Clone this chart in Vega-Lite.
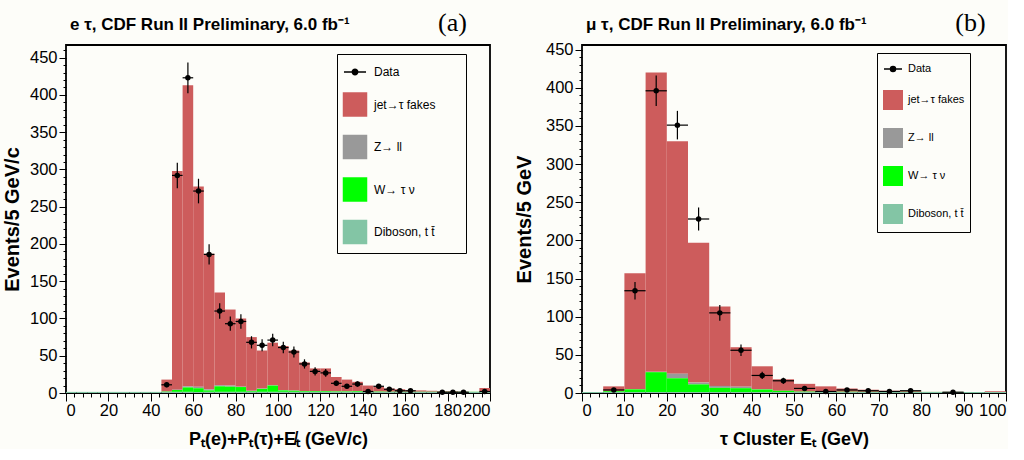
{
  "$schema": "https://vega.github.io/schema/vega-lite/v6.json",
  "background": "#fdfdf9",
  "padding": {"left": 1, "top": 8, "right": 0, "bottom": 0},
  "spacing": 92,
  "bounds": "flush",
  "datasets": {
    "a_mc": [
      {"lo": 0, "hi": 5, "jet→τ fakes": 0, "Z→ ll": 0, "W→ τ  ν": 0, "Diboson, t t̄": 1.5},
      {"lo": 5, "hi": 10, "jet→τ fakes": 0, "Z→ ll": 0, "W→ τ  ν": 0, "Diboson, t t̄": 1.5},
      {"lo": 10, "hi": 15, "jet→τ fakes": 0, "Z→ ll": 0, "W→ τ  ν": 0, "Diboson, t t̄": 1.5},
      {"lo": 15, "hi": 20, "jet→τ fakes": 0, "Z→ ll": 0, "W→ τ  ν": 0, "Diboson, t t̄": 1.5},
      {"lo": 20, "hi": 25, "jet→τ fakes": 0, "Z→ ll": 0, "W→ τ  ν": 0, "Diboson, t t̄": 1.5},
      {"lo": 25, "hi": 30, "jet→τ fakes": 0, "Z→ ll": 0, "W→ τ  ν": 0, "Diboson, t t̄": 1.5},
      {"lo": 30, "hi": 35, "jet→τ fakes": 0, "Z→ ll": 0, "W→ τ  ν": 0, "Diboson, t t̄": 1.5},
      {"lo": 35, "hi": 40, "jet→τ fakes": 0, "Z→ ll": 0, "W→ τ  ν": 0, "Diboson, t t̄": 1.5},
      {"lo": 40, "hi": 45, "jet→τ fakes": 0, "Z→ ll": 0, "W→ τ  ν": 0, "Diboson, t t̄": 1.5},
      {"lo": 45, "hi": 50, "jet→τ fakes": 16, "Z→ ll": 0, "W→ τ  ν": 0.5, "Diboson, t t̄": 1.5},
      {"lo": 50, "hi": 55, "jet→τ fakes": 293.5, "Z→ ll": 0.5, "W→ τ  ν": 2.5, "Diboson, t t̄": 1.5},
      {"lo": 55, "hi": 60, "jet→τ fakes": 404, "Z→ ll": 1.5, "W→ τ  ν": 6, "Diboson, t t̄": 1.5},
      {"lo": 60, "hi": 65, "jet→τ fakes": 268.5, "Z→ ll": 2, "W→ τ  ν": 5, "Diboson, t t̄": 1.5},
      {"lo": 65, "hi": 70, "jet→τ fakes": 182, "Z→ ll": 1.5, "W→ τ  ν": 2, "Diboson, t t̄": 1.5},
      {"lo": 70, "hi": 75, "jet→τ fakes": 124.5, "Z→ ll": 1.5, "W→ τ  ν": 7.5, "Diboson, t t̄": 1.5},
      {"lo": 75, "hi": 80, "jet→τ fakes": 102, "Z→ ll": 1.5, "W→ τ  ν": 7, "Diboson, t t̄": 1.5},
      {"lo": 80, "hi": 85, "jet→τ fakes": 91.5, "Z→ ll": 0.5, "W→ τ  ν": 6.5, "Diboson, t t̄": 1.5},
      {"lo": 85, "hi": 90, "jet→τ fakes": 72, "Z→ ll": 0.5, "W→ τ  ν": 1, "Diboson, t t̄": 1.5},
      {"lo": 90, "hi": 95, "jet→τ fakes": 51, "Z→ ll": 0.5, "W→ τ  ν": 4, "Diboson, t t̄": 1.5},
      {"lo": 95, "hi": 100, "jet→τ fakes": 57, "Z→ ll": 0.5, "W→ τ  ν": 8.5, "Diboson, t t̄": 1.5},
      {"lo": 100, "hi": 105, "jet→τ fakes": 59, "Z→ ll": 0.5, "W→ τ  ν": 2, "Diboson, t t̄": 1.5},
      {"lo": 105, "hi": 110, "jet→τ fakes": 53.7, "Z→ ll": 0.3, "W→ τ  ν": 1.5, "Diboson, t t̄": 1.5},
      {"lo": 110, "hi": 115, "jet→τ fakes": 38.5, "Z→ ll": 0, "W→ τ  ν": 1, "Diboson, t t̄": 1.5},
      {"lo": 115, "hi": 120, "jet→τ fakes": 30.5, "Z→ ll": 0, "W→ τ  ν": 1, "Diboson, t t̄": 1.5},
      {"lo": 120, "hi": 125, "jet→τ fakes": 30.5, "Z→ ll": 0, "W→ τ  ν": 1, "Diboson, t t̄": 1.5},
      {"lo": 125, "hi": 130, "jet→τ fakes": 19.3, "Z→ ll": 0, "W→ τ  ν": 0.7, "Diboson, t t̄": 1.5},
      {"lo": 130, "hi": 135, "jet→τ fakes": 15.8, "Z→ ll": 0, "W→ τ  ν": 0.7, "Diboson, t t̄": 1.5},
      {"lo": 135, "hi": 140, "jet→τ fakes": 12.5, "Z→ ll": 0, "W→ τ  ν": 1, "Diboson, t t̄": 1.5},
      {"lo": 140, "hi": 145, "jet→τ fakes": 8, "Z→ ll": 0, "W→ τ  ν": 0.5, "Diboson, t t̄": 1.5},
      {"lo": 145, "hi": 150, "jet→τ fakes": 6, "Z→ ll": 0, "W→ τ  ν": 0.5, "Diboson, t t̄": 1.5},
      {"lo": 150, "hi": 155, "jet→τ fakes": 4.2, "Z→ ll": 0, "W→ τ  ν": 0.3, "Diboson, t t̄": 1.5},
      {"lo": 155, "hi": 160, "jet→τ fakes": 3.2, "Z→ ll": 0, "W→ τ  ν": 0.3, "Diboson, t t̄": 1.5},
      {"lo": 160, "hi": 165, "jet→τ fakes": 1.8, "Z→ ll": 0, "W→ τ  ν": 0.2, "Diboson, t t̄": 1.5},
      {"lo": 165, "hi": 170, "jet→τ fakes": 1.8, "Z→ ll": 0, "W→ τ  ν": 0.2, "Diboson, t t̄": 1.5},
      {"lo": 170, "hi": 175, "jet→τ fakes": 1.3, "Z→ ll": 0, "W→ τ  ν": 0.2, "Diboson, t t̄": 1.5},
      {"lo": 175, "hi": 180, "jet→τ fakes": 0.8, "Z→ ll": 0, "W→ τ  ν": 0.2, "Diboson, t t̄": 1.5},
      {"lo": 180, "hi": 185, "jet→τ fakes": 0.8, "Z→ ll": 0, "W→ τ  ν": 0.2, "Diboson, t t̄": 1.5},
      {"lo": 185, "hi": 190, "jet→τ fakes": 0.3, "Z→ ll": 0, "W→ τ  ν": 0.2, "Diboson, t t̄": 1.5},
      {"lo": 190, "hi": 195, "jet→τ fakes": 0.1, "Z→ ll": 0, "W→ τ  ν": 0.2, "Diboson, t t̄": 1.5},
      {"lo": 195, "hi": 200, "jet→τ fakes": 5, "Z→ ll": 0, "W→ τ  ν": 0.2, "Diboson, t t̄": 1.5}
    ],
    "a_pts": [
      {"lo": 45, "hi": 50, "c": 47.5, "n": 11, "e": 3.3},
      {"lo": 50, "hi": 55, "c": 52.5, "n": 292, "e": 17.1},
      {"lo": 55, "hi": 60, "c": 57.5, "n": 423, "e": 20.6},
      {"lo": 60, "hi": 65, "c": 62.5, "n": 271, "e": 16.5},
      {"lo": 65, "hi": 70, "c": 67.5, "n": 186, "e": 13.6},
      {"lo": 70, "hi": 75, "c": 72.5, "n": 110, "e": 10.5},
      {"lo": 75, "hi": 80, "c": 77.5, "n": 93, "e": 9.6},
      {"lo": 80, "hi": 85, "c": 82.5, "n": 96, "e": 9.8},
      {"lo": 85, "hi": 90, "c": 87.5, "n": 68, "e": 8.2},
      {"lo": 90, "hi": 95, "c": 92.5, "n": 64, "e": 8},
      {"lo": 95, "hi": 100, "c": 97.5, "n": 71, "e": 8.4},
      {"lo": 100, "hi": 105, "c": 102.5, "n": 61, "e": 7.8},
      {"lo": 105, "hi": 110, "c": 107.5, "n": 55, "e": 7.4},
      {"lo": 110, "hi": 115, "c": 112.5, "n": 39, "e": 6.2},
      {"lo": 115, "hi": 120, "c": 117.5, "n": 29, "e": 5.4},
      {"lo": 120, "hi": 125, "c": 122.5, "n": 27, "e": 5.2},
      {"lo": 125, "hi": 130, "c": 127.5, "n": 13, "e": 3.6},
      {"lo": 130, "hi": 135, "c": 132.5, "n": 9, "e": 3},
      {"lo": 135, "hi": 140, "c": 137.5, "n": 12, "e": 3.5},
      {"lo": 140, "hi": 145, "c": 142.5, "n": 2, "e": 1.4},
      {"lo": 145, "hi": 150, "c": 147.5, "n": 9, "e": 3},
      {"lo": 150, "hi": 155, "c": 152.5, "n": 5, "e": 2.2},
      {"lo": 155, "hi": 160, "c": 157.5, "n": 3, "e": 1.7},
      {"lo": 160, "hi": 165, "c": 162.5, "n": 3, "e": 1.7},
      {"lo": 175, "hi": 180, "c": 177.5, "n": 1, "e": 1},
      {"lo": 180, "hi": 185, "c": 182.5, "n": 1, "e": 1},
      {"lo": 185, "hi": 190, "c": 187.5, "n": 1, "e": 1},
      {"lo": 195, "hi": 200, "c": 197.5, "n": 2, "e": 1.4}
    ],
    "b_mc": [
      {"lo": 0, "hi": 5, "jet→τ fakes": 0, "Z→ ll": 0, "W→ τ  ν": 0, "Diboson, t t̄": 1.3},
      {"lo": 5, "hi": 10, "jet→τ fakes": 6.4, "Z→ ll": 0, "W→ τ  ν": 1, "Diboson, t t̄": 1.3},
      {"lo": 10, "hi": 15, "jet→τ fakes": 152.2, "Z→ ll": 0, "W→ τ  ν": 3.5, "Diboson, t t̄": 1.3},
      {"lo": 15, "hi": 20, "jet→τ fakes": 392.2, "Z→ ll": 0.5, "W→ τ  ν": 26, "Diboson, t t̄": 1.3},
      {"lo": 20, "hi": 25, "jet→τ fakes": 304.7, "Z→ ll": 6, "W→ τ  ν": 18, "Diboson, t t̄": 1.3},
      {"lo": 25, "hi": 30, "jet→τ fakes": 183.4, "Z→ ll": 2.3, "W→ τ  ν": 10, "Diboson, t t̄": 1.3},
      {"lo": 30, "hi": 35, "jet→τ fakes": 104.2, "Z→ ll": 2.5, "W→ τ  ν": 5.5, "Diboson, t t̄": 1.3},
      {"lo": 35, "hi": 40, "jet→τ fakes": 51.7, "Z→ ll": 2, "W→ τ  ν": 5, "Diboson, t t̄": 1.3},
      {"lo": 40, "hi": 45, "jet→τ fakes": 29.9, "Z→ ll": 0.5, "W→ τ  ν": 3.3, "Diboson, t t̄": 1.3},
      {"lo": 45, "hi": 50, "jet→τ fakes": 15.1, "Z→ ll": 0, "W→ τ  ν": 1.6, "Diboson, t t̄": 1.3},
      {"lo": 50, "hi": 55, "jet→τ fakes": 10.2, "Z→ ll": 0, "W→ τ  ν": 0.5, "Diboson, t t̄": 1.3},
      {"lo": 55, "hi": 60, "jet→τ fakes": 7.1, "Z→ ll": 0, "W→ τ  ν": 0.3, "Diboson, t t̄": 1.3},
      {"lo": 60, "hi": 65, "jet→τ fakes": 4.4, "Z→ ll": 0, "W→ τ  ν": 0.3, "Diboson, t t̄": 1.3},
      {"lo": 65, "hi": 70, "jet→τ fakes": 2.8, "Z→ ll": 0, "W→ τ  ν": 0.2, "Diboson, t t̄": 1.3},
      {"lo": 70, "hi": 75, "jet→τ fakes": 1.5, "Z→ ll": 0, "W→ τ  ν": 0.2, "Diboson, t t̄": 1.3},
      {"lo": 75, "hi": 80, "jet→τ fakes": 1.1, "Z→ ll": 0, "W→ τ  ν": 0.2, "Diboson, t t̄": 1.3},
      {"lo": 80, "hi": 85, "jet→τ fakes": 0.1, "Z→ ll": 0, "W→ τ  ν": 0.1, "Diboson, t t̄": 1.3},
      {"lo": 85, "hi": 90, "jet→τ fakes": 0.1, "Z→ ll": 0, "W→ τ  ν": 0.1, "Diboson, t t̄": 1.3},
      {"lo": 90, "hi": 95, "jet→τ fakes": 0, "Z→ ll": 0, "W→ τ  ν": 0, "Diboson, t t̄": 1.3},
      {"lo": 95, "hi": 100, "jet→τ fakes": 1, "Z→ ll": 0, "W→ τ  ν": 0, "Diboson, t t̄": 1.3}
    ],
    "b_pts": [
      {"lo": 5, "hi": 10, "c": 7.5, "n": 4, "e": 2},
      {"lo": 10, "hi": 15, "c": 12.5, "n": 134, "e": 11.6},
      {"lo": 15, "hi": 20, "c": 17.5, "n": 396, "e": 19.9},
      {"lo": 20, "hi": 25, "c": 22.5, "n": 351, "e": 18.7},
      {"lo": 25, "hi": 30, "c": 27.5, "n": 228, "e": 15.1},
      {"lo": 30, "hi": 35, "c": 32.5, "n": 105, "e": 10.2},
      {"lo": 35, "hi": 40, "c": 37.5, "n": 56, "e": 7.5},
      {"lo": 40, "hi": 45, "c": 42.5, "n": 23, "e": 4.8},
      {"lo": 45, "hi": 50, "c": 47.5, "n": 16, "e": 4},
      {"lo": 50, "hi": 55, "c": 52.5, "n": 6, "e": 2.4},
      {"lo": 55, "hi": 60, "c": 57.5, "n": 2, "e": 1.4},
      {"lo": 60, "hi": 65, "c": 62.5, "n": 4, "e": 2},
      {"lo": 65, "hi": 70, "c": 67.5, "n": 3, "e": 1.7},
      {"lo": 70, "hi": 75, "c": 72.5, "n": 2, "e": 1.4},
      {"lo": 75, "hi": 80, "c": 77.5, "n": 3, "e": 1.7},
      {"lo": 85, "hi": 90, "c": 87.5, "n": 1, "e": 1}
    ]
  },
  "hconcat": [
    {
      "width": 424,
      "height": 348,
      "title": {"text": "e  τ, CDF Run II Preliminary, 6.0 fb⁻¹", "anchor": "start", "frame": "group", "dx": 4, "offset": -25, "font": "Liberation Sans", "fontSize": 17, "fontWeight": "bold", "color": "black"},
      "layer": [
        {
          "data": {"name": "a_mc"},
          "transform": [
            {"fold": ["jet→τ fakes", "Z→ ll", "W→ τ  ν", "Diboson, t t̄"], "as": ["key", "n"]},
            {"stack": "n", "groupby": ["lo"], "sort": [{"field": "key", "order": "ascending"}], "as": ["y0", "y1"]}
          ],
          "mark": {"type": "bar"},
          "encoding": {
            "x": {"field": "lo", "type": "quantitative", "scale": {"domain": [0, 200], "nice": false, "zero": false},
              "axis": {"orient": "bottom", "values": [0,4,8,12,16,20,24,28,32,36,40,44,48,52,56,60,64,68,72,76,80,84,88,92,96,100,104,108,112,116,120,124,128,132,136,140,144,148,152,156,160,164,168,172,176,180,184,188,192,196,200], "labels": false, "tickSize": 4, "title": null}},
            "x2": {"field": "hi"},
            "y": {"field": "y1", "type": "quantitative", "scale": {"domain": [0, 467], "nice": false},
              "axis": {"orient": "left", "values": [0,10,20,30,40,50,60,70,80,90,100,110,120,130,140,150,160,170,180,190,200,210,220,230,240,250,260,270,280,290,300,310,320,330,340,350,360,370,380,390,400,410,420,430,440,450,460], "labels": false, "tickSize": 3, "title": null}},
            "y2": {"field": "y0"},
            "color": {
              "field": "key", "type": "nominal",
              "scale": {"domain": ["Data", "jet→τ fakes", "Z→ ll", "W→ τ  ν", "Diboson, t t̄"], "range": ["#000000", "#cd5c5c", "#999999", "#00ff00", "#83c5a5"]},
              "legend": {
                "orient": "none", "legendX": 271, "legendY": 9,
                "title": " ", "titleOrient": "right", "titlePadding": 26,
                "symbolType": "square", "symbolSize": 600, "symbolStrokeWidth": 1.5,
                "labelFont": "Liberation Sans", "labelFontSize": 12, "labelColor": "black", "labelOffset": 6,
                "rowPadding": 10.5, "padding": 5,
                "strokeColor": "black", "fillColor": "#fdfdf9",
                "encode": {"symbols": {"update": {
                  "shape": {"signal": "datum.value === 'Data' ? 'M-0.9,0H0.9M-0.22,0A0.22,0.22 0 1,0 0.22,0A0.22,0.22 0 1,0 -0.22,0' : 'square'"},
                  "stroke": {"signal": "datum.value === 'Data' ? 'black' : 'transparent'"}
                }}}
              }
            }
          }
        },
        {
          "data": {"name": "a_pts"},
          "mark": {"type": "rule", "color": "black", "strokeWidth": 1.2},
          "encoding": {
            "x": {"field": "lo", "type": "quantitative",
              "axis": {"orient": "top", "labels": false, "ticks": false, "title": "(a)", "titleFont": "Liberation Serif", "titleFontSize": 26, "titleFontWeight": "normal", "titleX": 386, "titleY": -15, "titleAlign": "center", "titleBaseline": "alphabetic"}},
            "x2": {"field": "hi"},
            "y": {"field": "n", "type": "quantitative", "axis": null}
          }
        },
        {
          "data": {"name": "a_pts"},
          "mark": {"type": "errorbar", "ticks": false, "color": "black", "thickness": 1.2},
          "encoding": {
            "x": {"field": "c", "type": "quantitative", "axis": null},
            "y": {"field": "n", "type": "quantitative", "axis": null},
            "yError": {"field": "e"}
          }
        },
        {
          "data": {"name": "a_pts"},
          "mark": {"type": "point", "filled": true, "size": 30, "opacity": 1},
          "encoding": {
            "x": {"field": "c", "type": "quantitative",
              "axis": {"orient": "bottom", "values": [0,20,40,60,80,100,120,140,160,180,200], "tickSize": 8, "labelPadding": 1, "labelOverlap": false,
                "title": "Pₜ(e)+Pₜ(τ)+E̸ₜ (GeV/c)", "titleFontSize": 18, "titleY": 46, "titleBaseline": "middle"}},
            "y": {"field": "n", "type": "quantitative",
              "axis": {"orient": "left", "values": [0,50,100,150,200,250,300,350,400,450], "tickSize": 7, "labelPadding": 2,
                "title": "Events/5 GeV/c", "titleFontSize": 20, "titleAngle": -90, "titleX": -54, "titleY": 174, "titleBaseline": "middle", "titleAlign": "center"}},
            "color": {"datum": "Data"}
          }
        }
      ],
      "resolve": {"axis": {"x": "independent", "y": "independent"}}
    },
    {
      "width": 424,
      "height": 348,
      "title": {"text": "μ  τ, CDF Run II Preliminary, 6.0 fb⁻¹", "anchor": "start", "frame": "group", "dx": 4, "offset": -25, "font": "Liberation Sans", "fontSize": 17, "fontWeight": "bold", "color": "black"},
      "layer": [
        {
          "data": {"name": "b_mc"},
          "transform": [
            {"fold": ["jet→τ fakes", "Z→ ll", "W→ τ  ν", "Diboson, t t̄"], "as": ["key", "n"]},
            {"stack": "n", "groupby": ["lo"], "sort": [{"field": "key", "order": "ascending"}], "as": ["y0", "y1"]}
          ],
          "mark": {"type": "bar"},
          "encoding": {
            "x": {"field": "lo", "type": "quantitative", "scale": {"domain": [0, 100], "nice": false, "zero": false},
              "axis": {"orient": "bottom", "values": [0,2,4,6,8,10,12,14,16,18,20,22,24,26,28,30,32,34,36,38,40,42,44,46,48,50,52,54,56,58,60,62,64,66,68,70,72,74,76,78,80,82,84,86,88,90,92,94,96,98,100], "labels": false, "tickSize": 4, "title": null}},
            "x2": {"field": "hi"},
            "y": {"field": "y1", "type": "quantitative", "scale": {"domain": [0, 456], "nice": false},
              "axis": {"orient": "left", "values": [0,10,20,30,40,50,60,70,80,90,100,110,120,130,140,150,160,170,180,190,200,210,220,230,240,250,260,270,280,290,300,310,320,330,340,350,360,370,380,390,400,410,420,430,440,450], "labels": false, "tickSize": 3, "title": null}},
            "y2": {"field": "y0"},
            "color": {
              "field": "key", "type": "nominal",
              "scale": {"domain": ["Data", "jet→τ fakes", "Z→ ll", "W→ τ  ν", "Diboson, t t̄"], "range": ["#000000", "#cd5c5c", "#999999", "#00ff00", "#83c5a5"]},
              "legend": {
                "orient": "none", "legendX": 295, "legendY": 8,
                "title": null,
                "symbolType": "square", "symbolSize": 400, "symbolStrokeWidth": 1.5,
                "labelFont": "Liberation Sans", "labelFontSize": 11, "labelColor": "black", "labelOffset": 4,
                "rowPadding": 12, "padding": 5,
                "strokeColor": "black", "fillColor": "#fdfdf9",
                "encode": {"symbols": {"update": {
                  "shape": {"signal": "datum.value === 'Data' ? 'M-0.9,0H0.9M-0.25,0A0.25,0.25 0 1,0 0.25,0A0.25,0.25 0 1,0 -0.25,0' : 'square'"},
                  "stroke": {"signal": "datum.value === 'Data' ? 'black' : 'transparent'"}
                }}}
              }
            }
          }
        },
        {
          "data": {"name": "b_pts"},
          "mark": {"type": "rule", "color": "black", "strokeWidth": 1.2},
          "encoding": {
            "x": {"field": "lo", "type": "quantitative",
              "axis": {"orient": "top", "labels": false, "ticks": false, "title": "(b)", "titleFont": "Liberation Serif", "titleFontSize": 26, "titleFontWeight": "normal", "titleX": 388, "titleY": -15, "titleAlign": "center", "titleBaseline": "alphabetic"}},
            "x2": {"field": "hi"},
            "y": {"field": "n", "type": "quantitative", "axis": null}
          }
        },
        {
          "data": {"name": "b_pts"},
          "mark": {"type": "errorbar", "ticks": false, "color": "black", "thickness": 1.2},
          "encoding": {
            "x": {"field": "c", "type": "quantitative", "axis": null},
            "y": {"field": "n", "type": "quantitative", "axis": null},
            "yError": {"field": "e"}
          }
        },
        {
          "data": {"name": "b_pts"},
          "mark": {"type": "point", "filled": true, "size": 30, "opacity": 1},
          "encoding": {
            "x": {"field": "c", "type": "quantitative",
              "axis": {"orient": "bottom", "values": [0,10,20,30,40,50,60,70,80,90,100], "tickSize": 8, "labelPadding": 1, "labelOverlap": false,
                "title": "τ Cluster Eₜ (GeV)", "titleFontSize": 18, "titleY": 46, "titleBaseline": "middle"}},
            "y": {"field": "n", "type": "quantitative",
              "axis": {"orient": "left", "values": [0,50,100,150,200,250,300,350,400,450], "tickSize": 7, "labelPadding": 2,
                "title": "Events/5 GeV", "titleFontSize": 20, "titleAngle": -90, "titleX": -58, "titleY": 174, "titleBaseline": "middle", "titleAlign": "center"}},
            "color": {"datum": "Data"}
          }
        }
      ],
      "resolve": {"axis": {"x": "independent", "y": "independent"}}
    }
  ],
  "resolve": {"scale": {"color": "independent"}, "legend": {"color": "independent"}},
  "config": {
    "view": {"stroke": "black", "strokeWidth": 1.8},
    "axis": {
      "labelFont": "Liberation Sans", "labelFontSize": 16.5, "labelColor": "black",
      "tickColor": "black", "tickWidth": 1, "domain": false, "grid": false,
      "titleFont": "Liberation Sans", "titleFontWeight": "bold", "titleColor": "black"
    }
  }
}
